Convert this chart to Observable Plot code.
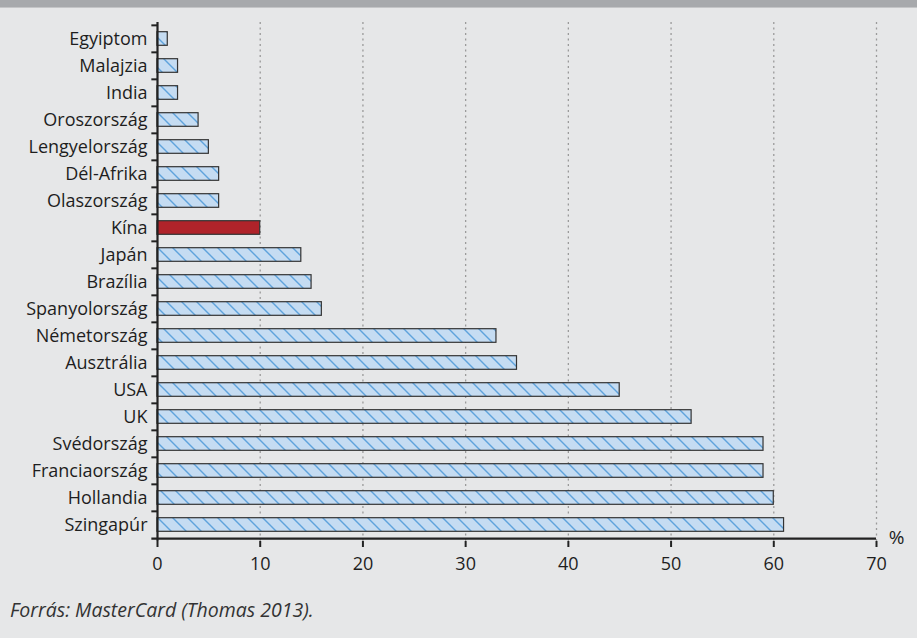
<!DOCTYPE html>
<html><head><meta charset="utf-8">
<script src="https://cdn.jsdelivr.net/npm/d3@7"></script>
<script src="https://cdn.jsdelivr.net/npm/@observablehq/plot@0.6"></script>
<style>
html,body{margin:0;padding:0;background:#e6e7e8;width:917px;height:638px;overflow:hidden;font-family:"Open Sans",sans-serif;}
#band{position:absolute;left:0;top:0;width:917px;height:7px;background:#a7a9ac;border-bottom:1px solid #c4c5c7;}
#chart{position:absolute;left:0;top:0;}
#cap{position:absolute;left:10px;top:596px;font-style:italic;font-size:19.5px;color:#333;white-space:nowrap;}
</style></head>
<body>
<div id="chart"></div>
<div id="band"></div>
<div id="cap">Forrás: MasterCard (Thomas 2013).</div>
<script>
const countries = ["Egyiptom","Malajzia","India","Oroszország","Lengyelország","Dél-Afrika","Olaszország","Kína","Japán","Brazília","Spanyolország","Németország","Ausztrália","USA","UK","Svédország","Franciaország","Hollandia","Szingapúr"];
const values = [1,2,2,4,5,6,6,10,14,15,16,33,35,45,52,59,59,60,61];
const highlight = "Kína";
const xTicks = [0,10,20,30,40,50,60,70];
const gridTicks = [10,20,30,40,50,60,70];

const data = countries.map((c,i)=>({country:c, value:values[i]}));
const W=917, H=580, mT=22, mB=39, mL=157, mR=41;
const step = (H-mT-mB)/countries.length;
const font = "Open Sans";

const plot = Plot.plot({
  width:W, height:H, marginTop:mT, marginBottom:mB, marginLeft:mL, marginRight:mR,
  style:{background:"transparent", fontFamily:font, fontSize:"18px", color:"#1e1e1e"},
  x:{domain:[0,70], label:null},
  y:{domain:countries, padding:0, label:null},
  marks:[
    Plot.ruleX(gridTicks,{stroke:"#9a9a9a", strokeDasharray:"2,3.5", strokeWidth:1.3}),
    Plot.barX(data,{x:"value", y:"country", insetTop:6.7, insetBottom:6.7,
      fill:d=>d.country===highlight?"#b0232a":"url(#hatch)", stroke:"#333", strokeWidth:1.2}),
    Plot.axisY({tickSize:0, tickPadding:10, fontSize:18, fill:"#1e1e1e", label:null}),
    Plot.axisX(xTicks,{tickSize:6, tickPadding:10, fontSize:18, stroke:"#222", strokeWidth:2, fill:"#1e1e1e", label:null}),
    Plot.ruleX([0],{stroke:"#222", strokeWidth:2.2}),
    Plot.ruleY(countries,{y:d=>d, x1:-0.55, x2:0, dy:-step/2, stroke:"#222", strokeWidth:2}),
    Plot.ruleY([countries[countries.length-1]],{y:d=>d, x1:-0.55, x2:70, dy:step/2, stroke:"#222", strokeWidth:2.2}),
    Plot.text(["%"],{x:70, frameAnchor:"bottom", dx:20, dy:2, fontSize:19, fill:"#1e1e1e"})
  ]
});
const svg = d3.select(plot);
const defs = svg.insert("defs",":first-child");
const S = 15;
const pat = defs.append("pattern").attr("id","hatch").attr("patternUnits","userSpaceOnUse")
  .attr("width",S).attr("height",S);
pat.append("rect").attr("width",S).attr("height",S).attr("fill","#c5dcf2");
pat.append("path").attr("d",`M-1,-1L${S+1},${S+1}M-1,${S-1}L1,${S+1}M${S-1},-1L${S+1},1`).attr("stroke","#5fa3dc").attr("stroke-width",1.4);
document.getElementById("chart").appendChild(plot);
</script>
</body></html>
